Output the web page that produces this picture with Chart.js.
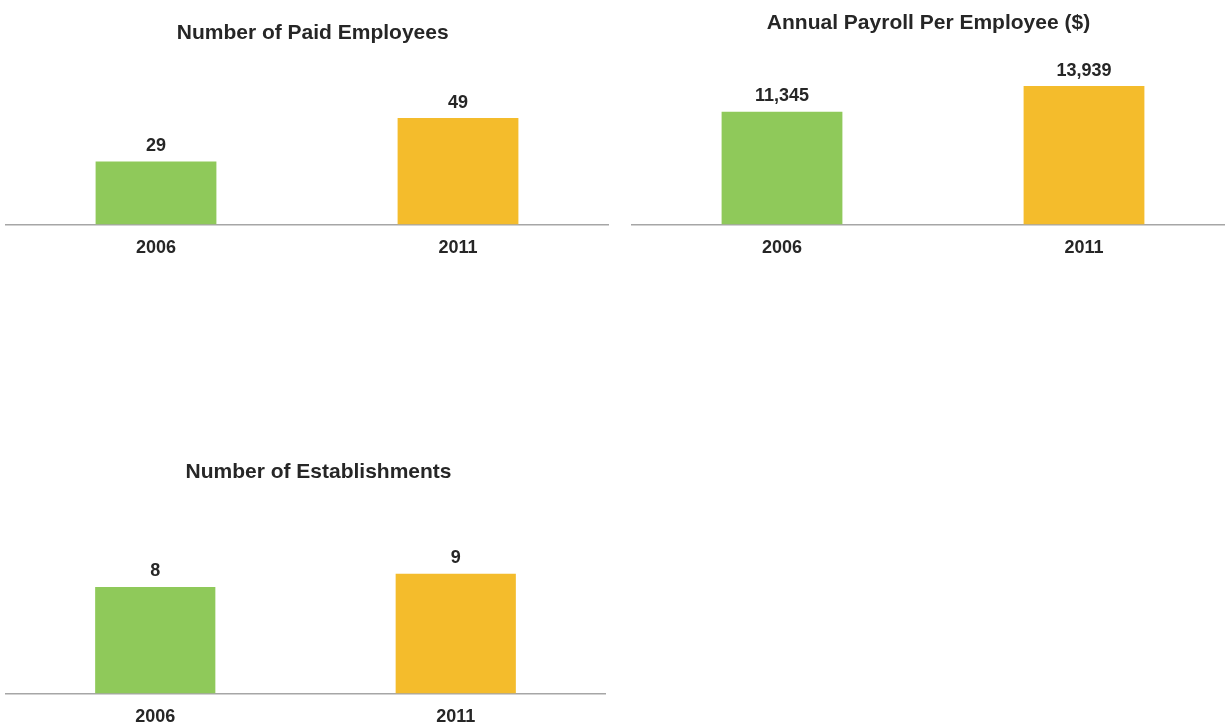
<!DOCTYPE html>
<html>
<head>
<meta charset="utf-8">
<script src="https://cdn.jsdelivr.net/npm/chart.js@4"></script>
<style>
html, body { margin: 0; padding: 0; background: #fff; overflow: hidden; width: 1225px; height: 725px; }
.panel { position: absolute; }
</style>
</head>
<body>
<div class="panel" style="left:5px; top:0px; width:604px; height:272px;"><canvas id="employeesChart"></canvas></div>
<div class="panel" style="left:631px; top:0px; width:604px; height:272px;"><canvas id="payrollChart"></canvas></div>
<div class="panel" style="left:5px; top:440px; width:601px; height:301px;"><canvas id="establishmentsChart"></canvas></div>
<script>
// Dados
const years = ['2006', '2011'];
const paidEmployees = [29, 49];
const payrollPerEmployee = [11345, 13939];
const establishments = [8, 9];
const barColors = ['#8fc95a', '#f4bc2c'];

const textColor = '#262626';
const fontFamily = "'Liberation Sans', Arial, sans-serif";

// Título e rótulos de valor desenhados à mão
const panelText = {
  id: 'panelText',
  afterDatasetsDraw(chart, args, opts) {
    const ctx = chart.ctx;
    const meta = chart.getDatasetMeta(0);
    const values = chart.data.datasets[0].data;
    ctx.save();
    ctx.fillStyle = textColor;
    ctx.textAlign = 'center';
    ctx.textBaseline = 'middle';
    // título
    ctx.font = 'bold 21px ' + fontFamily;
    ctx.fillText(opts.title, chart.width / 2 + opts.dx, opts.y);
    // valores acima das barras
    ctx.font = 'bold 18px ' + fontFamily;
    meta.data.forEach((bar, i) => {
      ctx.fillText(values[i].toLocaleString('en-US'), bar.x, bar.y - 15.5);
    });
    ctx.restore();
  }
};

function makeBarChart(id, title, values, yMax, top, titleY, titleDx) {
  return new Chart(document.getElementById(id), {
    type: 'bar',
    data: {
      labels: years,
      datasets: [{
        data: values,
        backgroundColor: barColors,
        borderWidth: 0,
        barPercentage: 0.4,
        categoryPercentage: 1
      }]
    },
    options: {
      responsive: true,
      maintainAspectRatio: false,
      animation: false,
      layout: { padding: { top: top, left: 0, right: 0, bottom: 0 } },
      plugins: {
        legend: { display: false },
        tooltip: { enabled: false },
        title: { display: false },
        panelText: { title: title, y: titleY, dx: titleDx }
      },
      scales: {
        x: {
          grid: { display: false, drawTicks: false },
          border: { display: true, color: '#a6a6a6', width: 1.5 },
          ticks: {
            color: textColor,
            padding: 13,
            font: { family: fontFamily, size: 18, weight: 'bold' }
          }
        },
        y: {
          display: false,
          min: 0,
          max: yMax
        }
      }
    },
    plugins: [panelText]
  });
}

makeBarChart('employeesChart', 'Number of Paid Employees', paidEmployees, 75, 61.6, 33.2, 5.7);
makeBarChart('payrollChart', 'Annual Payroll Per Employee ($)', payrollPerEmployee, 16000, 65.6, 23.7, -4.5);
makeBarChart('establishmentsChart', 'Number of Establishments', establishments, 12, 93.8, 32, 13);
</script>
</body>
</html>
